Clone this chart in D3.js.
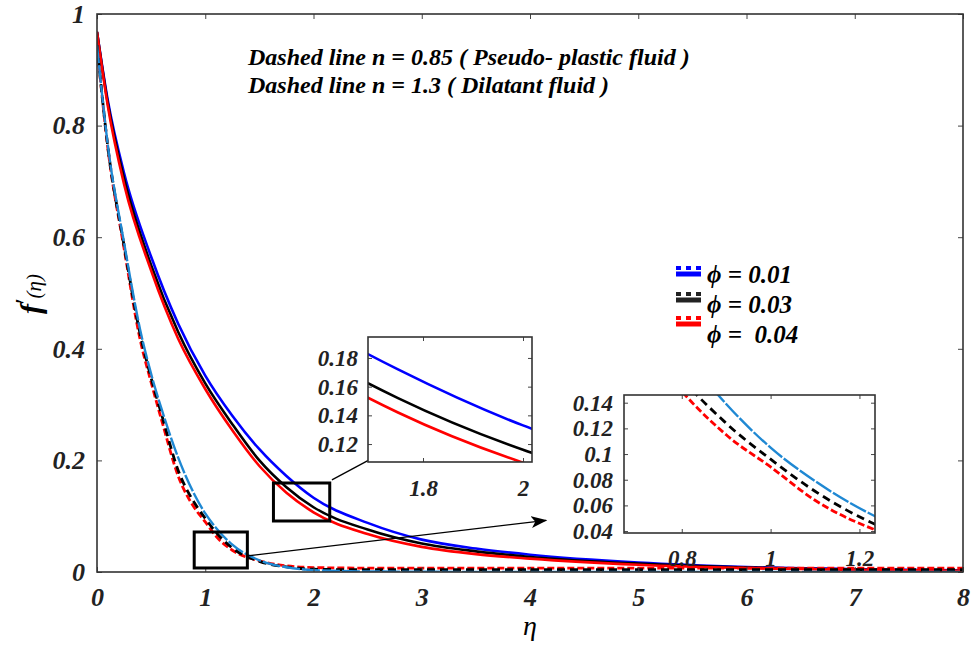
<!DOCTYPE html>
<html>
<head>
<meta charset="utf-8">
<script src="https://cdn.jsdelivr.net/npm/d3@7"></script>
<style>
  body { margin: 0; background: #fff; }
  svg { font-family: "Liberation Serif", "Times New Roman", serif; font-weight: bold; font-style: italic; }
  .axis text { fill: #222; }
  .axis line { stroke: #444; }
</style>
</head>
<body>
<svg id="chart" width="976" height="652"></svg>
<script>
// solid curves
const etaSolid = [0, 0.1, 0.25, 0.5, 0.75, 1, 1.25, 1.5, 1.75, 2, 2.5, 3, 3.5, 4, 5, 6, 7, 8];
const blueSolid = [0.968, 0.845, 0.715, 0.565, 0.445, 0.352, 0.28, 0.22, 0.172, 0.133, 0.088, 0.058, 0.042, 0.031, 0.017, 0.009, 0.005, 0.003];
const blackSolid = [0.968, 0.84, 0.705, 0.55, 0.43, 0.338, 0.265, 0.20, 0.152, 0.116, 0.076, 0.051, 0.037, 0.027, 0.015, 0.008, 0.004, 0.002];
const redSolid = [0.968, 0.835, 0.695, 0.54, 0.418, 0.328, 0.254, 0.19, 0.142, 0.107, 0.068, 0.045, 0.032, 0.024, 0.013, 0.007, 0.004, 0.002];

// dashed curves
const etaDashed = [0, 0.1, 0.25, 0.4, 0.5, 0.6, 0.75, 0.9, 1, 1.1, 1.25, 1.5, 1.75, 2, 2.5, 3, 4, 5, 6, 7, 8];
const blueDashed = [0.944, 0.765, 0.59, 0.433, 0.355, 0.29, 0.205, 0.139, 0.105, 0.079, 0.049, 0.021, 0.0085, 0.0034, 0.001, 0.0005, 0, 0, 0, 0, 0];
const blackDashed = [0.944, 0.762, 0.585, 0.425, 0.348, 0.28, 0.182, 0.124, 0.096, 0.071, 0.043, 0.019, 0.009, 0.005, 0.004, 0.004, 0.004, 0.004, 0.004, 0.004, 0.004];
const redDashed = [0.944, 0.76, 0.58, 0.415, 0.34, 0.27, 0.172, 0.115, 0.09, 0.064, 0.039, 0.02, 0.011, 0.008, 0.007, 0.007, 0.007, 0.007, 0.007, 0.007, 0.007];

const legendLabels = ['\u03D5 = 0.01', '\u03D5 = 0.03', '\u03D5 =  0.04'];
const xTicks = [0, 1, 2, 3, 4, 5, 6, 7, 8];
const yTicks = [0, 0.2, 0.4, 0.6, 0.8, 1];
const inset1XTicks = [1.8, 2];
const inset1YTicks = [0.12, 0.14, 0.16, 0.18];
const inset2XTicks = [0.8, 1, 1.2];
const inset2YTicks = [0.04, 0.06, 0.08, 0.1, 0.12, 0.14];
const noteLines = ['Dashed line n = 0.85 ( Pseudo- plastic fluid )', 'Dashed line n = 1.3 ( Dilatant fluid )'];

// zoom boxes and arrows in data coords
const boxes = [
  { x0: 0.898, x1: 1.389, y0: 0.0072, y1: 0.0717 },
  { x0: 1.63, x1: 2.15, y0: 0.0914, y1: 0.1595 }
];
const arrows = [
  { from: [2.17, 0.165], to: [2.92, 0.243] },
  { from: [1.386, 0.0287], to: [4.15, 0.0925] }
];

const series = [
  { eta: etaSolid, vals: blueSolid, color: '#0000ff', dash: null, w: 2.6 },
  { eta: etaSolid, vals: blackSolid, color: '#000000', dash: null, w: 2.6 },
  { eta: etaSolid, vals: redSolid, color: '#ff0000', dash: null, w: 2.6 },
  { eta: etaDashed, vals: redDashed, color: '#ff0000', dash: '7,3', w: 2.8 },
  { eta: etaDashed, vals: blackDashed, color: '#000000', dash: '8,5', w: 2.8 },
  { eta: etaDashed, vals: blueDashed, color: '#1f88d3', dash: '18,2', w: 2.4 }
];

const svg = d3.select('#chart');
const defs = svg.append('defs');
defs.append('marker')
  .attr('id', 'arrow')
  .attr('markerUnits', 'userSpaceOnUse')
  .attr('markerWidth', 20).attr('markerHeight', 14)
  .attr('refX', 15).attr('refY', 6)
  .attr('orient', 'auto')
  .append('path')
  .attr('d', 'M0,0 L16,6 L0,12 L4,6 Z')
  .attr('fill', '#000');

function drawPanel(g, id, x, y, opts) {
  const [xl, xr] = x.range();
  const [yb, yt] = y.range();
  g.append('rect')
    .attr('x', xl).attr('y', yt)
    .attr('width', xr - xl).attr('height', yb - yt)
    .attr('fill', '#fff');

  defs.append('clipPath').attr('id', id)
    .append('rect')
    .attr('x', xl).attr('y', yt)
    .attr('width', xr - xl).attr('height', yb - yt);

  const line = d3.line()
    .x((d) => x(d[0]))
    .y((d) => y(d[1]))
    .curve(d3.curveMonotoneX);

  const lines = g.append('g').attr('clip-path', `url(#${id})`);
  series.forEach((s) => {
    lines.append('path')
      .datum(s.eta.map((e, i) => [e, s.vals[i]]))
      .attr('d', line)
      .attr('fill', 'none')
      .attr('stroke', s.color)
      .attr('stroke-width', s.w)
      .attr('stroke-dasharray', s.dash);
  });

  const ts = opts.tick;
  g.append('g').attr('class', 'axis')
    .attr('transform', `translate(0,${yb})`)
    .call(d3.axisBottom(x).tickValues(opts.xTicks).tickSize(-ts).tickPadding(opts.xPad).tickFormat(opts.xFmt || d3.format('')))
    .call((a) => a.select('.domain').remove());
  g.append('g').attr('class', 'axis')
    .attr('transform', `translate(${xl},0)`)
    .call(d3.axisLeft(y).tickValues(opts.yTicks).tickSize(-ts).tickPadding(opts.yPad).tickFormat(opts.yFmt || d3.format('')))
    .call((a) => a.select('.domain').remove());
  g.append('g').attr('class', 'axis')
    .attr('transform', `translate(0,${yt})`)
    .call(d3.axisTop(x).tickValues(opts.xTicks).tickSize(-ts).tickFormat(''))
    .call((a) => a.select('.domain').remove());
  g.append('g').attr('class', 'axis')
    .attr('transform', `translate(${xr},0)`)
    .call(d3.axisRight(y).tickValues(opts.yTicks).tickSize(-ts).tickFormat(''))
    .call((a) => a.select('.domain').remove());
  g.selectAll('.axis').attr('font-family', null).attr('font-size', null);
  g.selectAll('.axis text').style('font-size', opts.font + 'px');

  g.append('rect')
    .attr('x', xl).attr('y', yt)
    .attr('width', xr - xl).attr('height', yb - yt)
    .attr('fill', 'none')
    .attr('stroke', '#333')
    .attr('stroke-width', 1.6);
}

// main plot
const x = d3.scaleLinear().domain([0, 8]).range([97, 963]);
const y = d3.scaleLinear().domain([0, 1]).range([572, 14]);
const main = svg.append('g');
drawPanel(main, 'clipMain', x, y, {
  xTicks, yTicks, tick: 5, font: 26, xPad: 16, yPad: 12
});

// zoom boxes and arrows
svg.append('g').selectAll('rect')
  .data(boxes)
  .join('rect')
  .attr('x', (d) => x(d.x0))
  .attr('y', (d) => y(d.y1))
  .attr('width', (d) => x(d.x1) - x(d.x0))
  .attr('height', (d) => y(d.y0) - y(d.y1))
  .attr('fill', 'none')
  .attr('stroke', '#000')
  .attr('stroke-width', 3);

svg.append('g').selectAll('line')
  .data(arrows)
  .join('line')
  .attr('x1', (d) => x(d.from[0])).attr('y1', (d) => y(d.from[1]))
  .attr('x2', (d) => x(d.to[0])).attr('y2', (d) => y(d.to[1]))
  .attr('stroke', '#000')
  .attr('stroke-width', 1.3)
  .attr('marker-end', 'url(#arrow)');

// inset 1
const x1 = d3.scaleLinear().domain([1.69, 2.018]).range([368, 532]);
const y1 = d3.scaleLinear().domain([0.1075, 0.1946]).range([462, 337]);
drawPanel(svg.append('g'), 'clipIn1', x1, y1, {
  xTicks: inset1XTicks, yTicks: inset1YTicks, tick: 4, font: 23, xPad: 18, yPad: 10,
  yFmt: d3.format('.2f')
});

// inset 2
const x2 = d3.scaleLinear().domain([0.67, 1.235]).range([624, 875]);
const y2 = d3.scaleLinear().domain([0.0385, 0.146]).range([533, 395]);
drawPanel(svg.append('g'), 'clipIn2', x2, y2, {
  xTicks: inset2XTicks, yTicks: inset2YTicks, tick: 4, font: 23, xPad: 17, yPad: 11
});

// axis titles
svg.append('text')
  .attr('x', 530).attr('y', 635)
  .attr('text-anchor', 'middle')
  .style('font-size', '28px')
  .style('font-weight', 'normal')
  .text('\u03B7');

const yl = svg.append('text')
  .attr('transform', 'translate(41,294) rotate(-90)')
  .attr('text-anchor', 'middle');
yl.append('tspan').style('font-size', '30px').text('f');
yl.append('tspan').style('font-size', '20px').attr('dy', -11).text('\u2032');
yl.append('tspan').style('font-size', '21px').style('font-weight', 'normal').attr('dy', 11).text('(\u03B7)');

// note text
svg.append('g').selectAll('text')
  .data(noteLines)
  .join('text')
  .attr('x', 248)
  .attr('y', (d, i) => 65 + i * 28)
  .style('font-size', '24px')
  .text((d) => d);

// legend
const legendColors = ['#0000ff', '#222222', '#ff0000'];
const legendRows = [
  { swatch: 271, text: 283 },
  { swatch: 297, text: 313 },
  { swatch: 321, text: 343 }
];
const leg = svg.append('g');
legendColors.forEach((c, i) => {
  const r = legendRows[i];
  leg.append('line')
    .attr('x1', 676).attr('x2', 701)
    .attr('y1', r.swatch + 3).attr('y2', r.swatch + 3)
    .attr('stroke', c).attr('stroke-width', 5);
  leg.append('line')
    .attr('x1', 676).attr('x2', 701)
    .attr('y1', r.swatch - 3).attr('y2', r.swatch - 3)
    .attr('stroke', c).attr('stroke-width', 4)
    .attr('stroke-dasharray', '5,5');
});
leg.selectAll('text')
  .data(legendLabels)
  .join('text')
  .attr('x', 707)
  .attr('y', (d, i) => legendRows[i].text)
  .style('font-size', '25px')
  .style('white-space', 'pre')
  .text((d) => d);
</script>
</body>
</html>
